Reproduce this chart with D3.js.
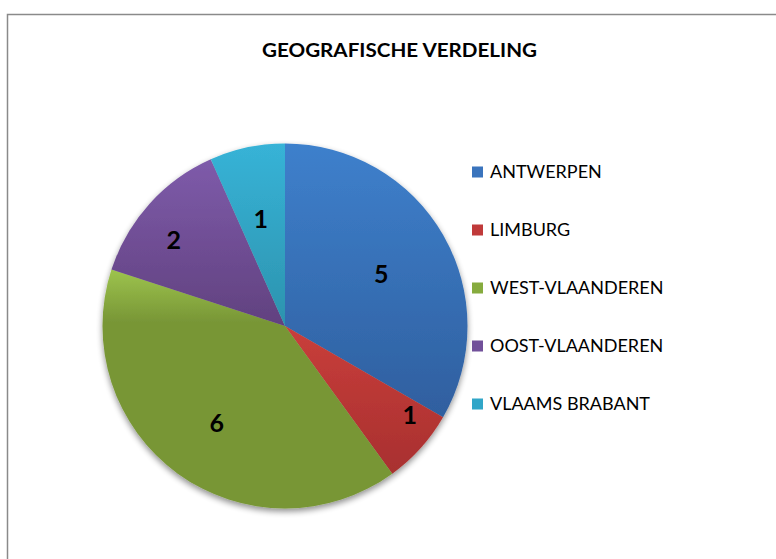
<!DOCTYPE html>
<html><head><meta charset="utf-8">
<script src="https://cdn.jsdelivr.net/npm/d3@7"></script>
<style>body{margin:0;background:#fff}svg{display:block}</style>
</head><body>
<script>
const categories = ["ANTWERPEN","LIMBURG","WEST-VLAANDEREN","OOST-VLAANDEREN","VLAAMS BRABANT"];
const values = [5,1,6,2,1];
const colorsTop = ["#3e80cc","#c93e3b","#9dc34d","#7e5baa","#37b3d7"];
const colorsBottom = ["#2f5f9f","#a8302f","#789636","#61417f","#2c93ae"];
const gradientEnd = [1, 1, 0.22, 1, 1];
const legendColors = ["#3a74bd","#c03a3a","#86ab3e","#71509a","#31a6c8"];
const title = "GEOGRAFISCHE VERDELING";
// label placement (fraction of radius, angle shift in degrees) – Excel "best fit"
const labelRadius = [0.60, 0.84, 0.65, 0.77, 0.60];
const labelShift = [1.4, -6.4, -0.9, -4.4, -0.8];

const W=776,H=559, cx=285, cy=326, R=182.5;
const FONT="Lato, 'Open Sans', sans-serif";
const svg=d3.select("body").append("svg").attr("width",W).attr("height",H);
const defs=svg.append("defs");
const f=defs.append("filter").attr("id","sh").attr("x","-20%").attr("y","-20%").attr("width","140%").attr("height","150%");
f.append("feGaussianBlur").attr("in","SourceAlpha").attr("stdDeviation",3);
f.append("feOffset").attr("dx",0).attr("dy",3).attr("result","b");
f.append("feComponentTransfer").append("feFuncA").attr("type","linear").attr("slope",0.45);
const m=f.append("feMerge"); m.append("feMergeNode"); m.append("feMergeNode").attr("in","SourceGraphic");

categories.forEach((c,i)=>{
  const g=defs.append("linearGradient").attr("id","g"+i)
    .attr("x1",0).attr("y1",0).attr("x2",0).attr("y2",1);
  g.append("stop").attr("offset","0").attr("stop-color",colorsTop[i]);
  g.append("stop").attr("offset",gradientEnd[i]).attr("stop-color",colorsBottom[i]);
  g.append("stop").attr("offset","1").attr("stop-color",colorsBottom[i]);
});

svg.append("rect").attr("x",7.5).attr("y",14.5).attr("width",W+10).attr("height",H+10)
  .attr("fill","none").attr("stroke","#8a8a8a").attr("stroke-width",1.5);

svg.append("text").attr("x",399.5).attr("y",57).attr("text-anchor","middle")
  .attr("font-family",FONT).attr("font-weight","bold").attr("font-size",18.5)
  .attr("textLength",275).attr("lengthAdjust","spacingAndGlyphs").text(title);

const pie=d3.pie().sort(null).value(d=>d)(values);
const arc=d3.arc().innerRadius(0).outerRadius(R);
const gp=svg.append("g").attr("transform",`translate(${cx},${cy})`);
gp.append("g").attr("filter","url(#sh)")
  .selectAll("path").data(pie).join("path").attr("d",arc)
  .attr("fill",(d,i)=>`url(#g${i})`);
gp.selectAll("text").data(pie).join("text")
  .attr("transform",(d,i)=>{
    const a=(d.startAngle+d.endAngle)/2 + labelShift[i]*Math.PI/180;
    const r=R*labelRadius[i];
    return `translate(${r*Math.sin(a)},${-r*Math.cos(a)})`;
  })
  .attr("text-anchor","middle").attr("dy","0.36em")
  .attr("font-family",FONT).attr("font-weight","bold").attr("font-size",25)
  .attr("fill","#000").text(d=>d.data);

const lg=svg.append("g");
const ly=d3.scalePoint().domain(categories).range([172,404]);
categories.forEach((c,i)=>{
  lg.append("rect").attr("x",472).attr("y",ly(c)-5.5).attr("width",11).attr("height",11).attr("fill",legendColors[i]);
  lg.append("text").attr("x",490).attr("y",ly(c)).attr("dy","0.36em")
    .attr("font-family",FONT).attr("font-size",18).attr("fill","#000").text(c);
});
</script>
</body></html>
